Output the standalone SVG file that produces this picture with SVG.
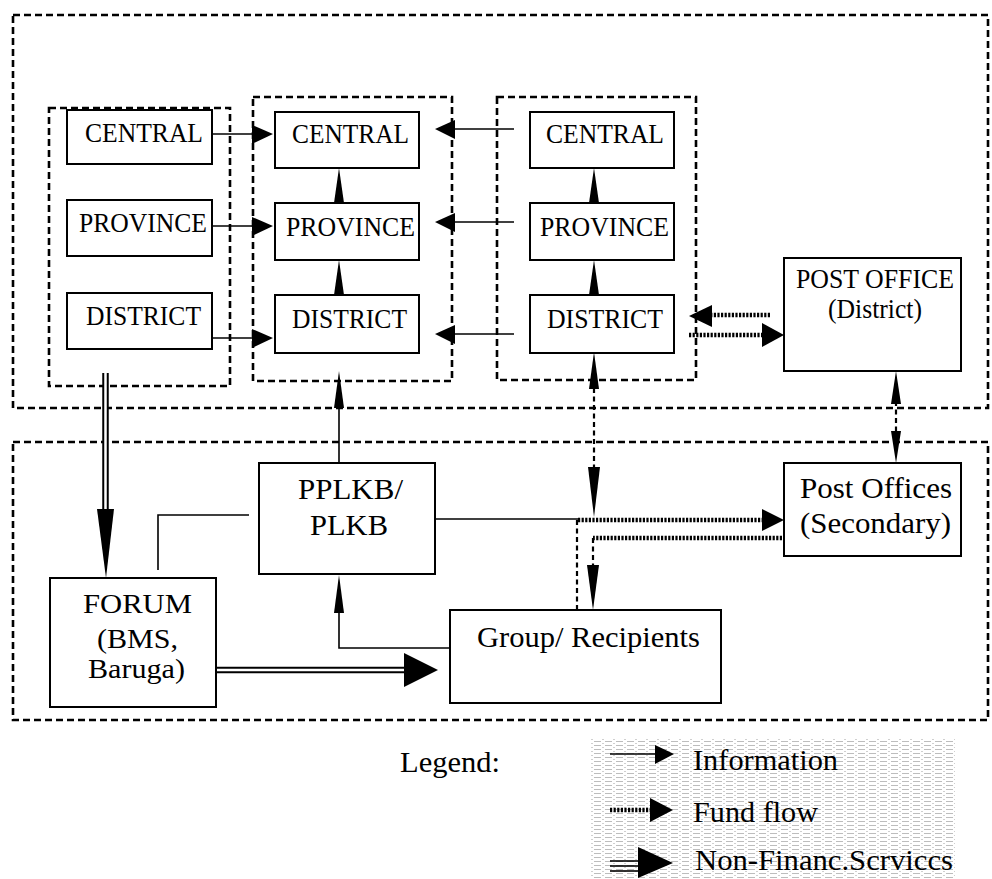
<svg xmlns="http://www.w3.org/2000/svg" width="992" height="879" viewBox="0 0 992 879" font-family="'Liberation Serif', 'Times New Roman', serif">
  <defs>
    <style>
      text { font-family: "Liberation Serif", "Times New Roman", serif; fill: #000; text-anchor: middle; }
      .t1 { font-size: 28px; }
      .t2 { font-size: 30px; }
      .t3 { font-size: 27px; }
      .lg { font-size: 29px; text-anchor: start; }
      .box { fill: #fff; stroke: #000; stroke-width: 2; }
      .zone { fill: none; stroke: #000; stroke-width: 2.6; stroke-dasharray: 7 4; }
      .info { fill: none; stroke: #000; stroke-width: 1.6; }
      .fund { fill: none; stroke: #000; stroke-width: 4.5; stroke-dasharray: 2.2 1.4; }
      .link { fill: none; stroke: #000; stroke-width: 2.2; stroke-dasharray: 5 3.5; }
      .dblo { fill: none; stroke: #000; stroke-width: 6.5; }
      .dbli { fill: none; stroke: #fff; stroke-width: 2.5; }
      .ah { fill: #000; stroke: none; }
    </style>
    <pattern id="grain" width="11" height="4" patternUnits="userSpaceOnUse">
      <rect x="0" y="1" width="7" height="1" fill="#bdbdbd"/>
      <rect x="8" y="3" width="2" height="1" fill="#d0d0d0"/>
    </pattern>
  </defs>

  <!-- zone frames -->
  <g id="zones">
    <rect class="zone" x="13" y="15" width="975" height="393"/>
    <rect class="zone" x="13" y="442" width="975" height="278"/>
    <rect class="zone" x="49" y="108" width="181" height="278"/>
    <rect class="zone" x="253" y="97" width="199" height="284"/>
    <rect class="zone" x="497" y="97" width="199" height="283"/>
  </g>

  <!-- connectors -->
  <g id="connectors">
    <!-- information: left column to middle column -->
    <line class="info" x1="204" y1="134" x2="254" y2="134"/>
    <polygon class="ah" points="252,125 273,134 252,144"/>
    <line class="info" x1="212" y1="226" x2="254" y2="226"/>
    <polygon class="ah" points="252,217 273,226 252,236"/>
    <line class="info" x1="197" y1="338" x2="254" y2="338"/>
    <polygon class="ah" points="252,329 273,338 252,348"/>

    <!-- information: right column to middle column -->
    <line class="info" x1="514" y1="129" x2="453" y2="129"/>
    <polygon class="ah" points="455,120 435,129 455,139"/>
    <line class="info" x1="514" y1="222" x2="453" y2="222"/>
    <polygon class="ah" points="455,213 435,222 455,232"/>
    <line class="info" x1="514" y1="334" x2="453" y2="334"/>
    <polygon class="ah" points="455,325 435,334 455,344"/>

    <!-- information: upward within columns -->
    <polygon class="ah" points="339,168 344,203 334,203"/>
    <polygon class="ah" points="339,260 344,295 334,295"/>
    <polygon class="ah" points="594,168 599,203 589,203"/>
    <polygon class="ah" points="594,260 599,295 589,295"/>

    <!-- information: PPLKB up to middle district -->
    <line class="info" x1="339" y1="463" x2="339" y2="405"/>
    <polygon class="ah" points="339,371 344,408 334,408"/>

    <!-- information: group to PPLKB -->
    <polyline class="info" points="450,648 339,648 339,610"/>
    <polygon class="ah" points="339,575 344,613 334,613"/>

    <!-- information: forum to PPLKB -->
    <polyline class="info" points="158,570 158,515 249,515"/>

    <!-- information: PPLKB to junction -->
    <line class="info" x1="435" y1="519" x2="578" y2="519"/>

    <!-- fund flow: post office (district) and right district -->
    <line class="fund" x1="770" y1="315" x2="710" y2="315"/>
    <polygon class="ah" points="712,305 689,316 712,327"/>
    <line class="fund" x1="689" y1="335" x2="764" y2="335"/>
    <polygon class="ah" points="762,323 784,335 762,347"/>

    <!-- fund flow: junction to post offices (secondary) -->
    <line class="fund" x1="578" y1="520" x2="764" y2="520"/>
    <polygon class="ah" points="762,509 784,520 762,531"/>

    <!-- fund flow: post offices (secondary) back to group -->
    <line class="fund" x1="782" y1="538" x2="593" y2="538"/>
    <line class="link" x1="593" y1="538" x2="593" y2="567"/>
    <polygon class="ah" points="593,610 599,565 587,565"/>

    <!-- junction down to group -->
    <line class="link" x1="577" y1="520" x2="577" y2="610"/>

    <!-- right district to group, both ways -->
    <line class="link" x1="594" y1="388" x2="594" y2="470"/>
    <polygon class="ah" points="594,352 599,389 589,389"/>
    <polygon class="ah" points="594,517 600,467 588,467"/>

    <!-- post office (district) to post offices (secondary), both ways -->
    <line class="link" x1="896" y1="401" x2="896" y2="434"/>
    <polygon class="ah" points="896,371 901,404 891,404"/>
    <polygon class="ah" points="896,463 901,431 891,431"/>

    <!-- non-financial services: left column down to forum -->
    <line class="dblo" x1="105.5" y1="373" x2="105.5" y2="512"/>
    <line class="dbli" x1="105.5" y1="373" x2="105.5" y2="512"/>
    <polygon class="ah" points="97,509 114,509 106,578"/>

    <!-- non-financial services: forum to group -->
    <line class="dblo" x1="216" y1="670" x2="406" y2="670"/>
    <line class="dbli" x1="216" y1="670" x2="406" y2="670"/>
    <polygon class="ah" points="404,653 438,670 404,687"/>
  </g>

  <!-- left column -->
  <g id="left-central">
    <rect class="box" x="67" y="110" width="145" height="54"/>
    <text class="t1" x="144" y="142" textLength="118" lengthAdjust="spacingAndGlyphs">CENTRAL</text>
  </g>
  <g id="left-province">
    <rect class="box" x="67" y="200" width="145" height="56"/>
    <text class="t1" x="143" y="232" textLength="128" lengthAdjust="spacingAndGlyphs">PROVINCE</text>
  </g>
  <g id="left-district">
    <rect class="box" x="67" y="293" width="145" height="56"/>
    <text class="t1" x="143.5" y="325" textLength="115" lengthAdjust="spacingAndGlyphs">DISTRICT</text>
  </g>

  <!-- middle column -->
  <g id="mid-central">
    <rect class="box" x="275" y="112" width="144" height="56"/>
    <text class="t1" x="350.5" y="143" textLength="117" lengthAdjust="spacingAndGlyphs">CENTRAL</text>
  </g>
  <g id="mid-province">
    <rect class="box" x="275" y="203" width="144" height="57"/>
    <text class="t1" x="350.5" y="236" textLength="129" lengthAdjust="spacingAndGlyphs">PROVINCE</text>
  </g>
  <g id="mid-district">
    <rect class="box" x="275" y="295" width="144" height="58"/>
    <text class="t1" x="349.5" y="328" textLength="115" lengthAdjust="spacingAndGlyphs">DISTRICT</text>
  </g>

  <!-- right column -->
  <g id="right-central">
    <rect class="box" x="530" y="112" width="144" height="56"/>
    <text class="t1" x="605" y="143" textLength="118" lengthAdjust="spacingAndGlyphs">CENTRAL</text>
  </g>
  <g id="right-province">
    <rect class="box" x="530" y="203" width="144" height="57"/>
    <text class="t1" x="604.5" y="236" textLength="129" lengthAdjust="spacingAndGlyphs">PROVINCE</text>
  </g>
  <g id="right-district">
    <rect class="box" x="530" y="295" width="144" height="58"/>
    <text class="t1" x="605" y="328" textLength="116" lengthAdjust="spacingAndGlyphs">DISTRICT</text>
  </g>

  <g id="post-office-district">
    <rect class="box" x="784" y="258" width="177" height="113"/>
    <text class="t1" x="875" y="288" textLength="158" lengthAdjust="spacingAndGlyphs">POST OFFICE</text>
    <text class="t1" x="875" y="318" textLength="94" lengthAdjust="spacingAndGlyphs">(District)</text>
  </g>

  <g id="post-offices-secondary">
    <rect class="box" x="784" y="463" width="177" height="93"/>
    <text class="t2" x="876" y="498" textLength="152" lengthAdjust="spacingAndGlyphs">Post Offices</text>
    <text class="t2" x="875.5" y="533" textLength="151" lengthAdjust="spacingAndGlyphs">(Secondary)</text>
  </g>

  <g id="pplkb">
    <rect class="box" x="259" y="463" width="176" height="111"/>
    <text class="t2" x="350.5" y="499" textLength="105" lengthAdjust="spacingAndGlyphs">PPLKB/</text>
    <text class="t2" x="349" y="535" textLength="78" lengthAdjust="spacingAndGlyphs">PLKB</text>
  </g>

  <g id="forum">
    <rect class="box" x="50" y="578" width="166" height="129"/>
    <text class="t3" x="137.5" y="613" textLength="109" lengthAdjust="spacingAndGlyphs">FORUM</text>
    <text class="t3" x="137.5" y="648" textLength="81" lengthAdjust="spacingAndGlyphs">(BMS,</text>
    <text class="t3" x="136.5" y="678" textLength="97" lengthAdjust="spacingAndGlyphs">Baruga)</text>
  </g>

  <g id="group-recipients">
    <rect class="box" x="450" y="610" width="271" height="93"/>
    <text class="t2" x="588.5" y="647" textLength="223" lengthAdjust="spacingAndGlyphs">Group/ Recipients</text>
  </g>

  <!-- legend -->
  <g id="legend">
    <text class="lg" x="400" y="772" textLength="100" lengthAdjust="spacingAndGlyphs">Legend:</text>
    <rect x="590" y="738" width="365" height="141" fill="url(#grain)"/>

    <line class="info" x1="610" y1="754" x2="657" y2="754"/>
    <polygon class="ah" points="655,745 674,754 655,764"/>
    <text class="lg" x="693" y="770" textLength="145" lengthAdjust="spacingAndGlyphs">Information</text>

    <line class="fund" x1="610" y1="810" x2="652" y2="810"/>
    <polygon class="ah" points="650,798 673,810 650,822"/>
    <text class="lg" x="693" y="822" textLength="125" lengthAdjust="spacingAndGlyphs">Fund flow</text>

    <line class="info" x1="610" y1="861" x2="640" y2="861"/>
    <line class="info" x1="610" y1="866" x2="640" y2="866"/>
    <line class="info" x1="610" y1="871" x2="640" y2="871"/>
    <polygon class="ah" points="638,847 673,863 638,878"/>
    <text class="lg" x="695" y="870" textLength="258" lengthAdjust="spacingAndGlyphs">Non-Financ.Scrviccs</text>
  </g>
</svg>
